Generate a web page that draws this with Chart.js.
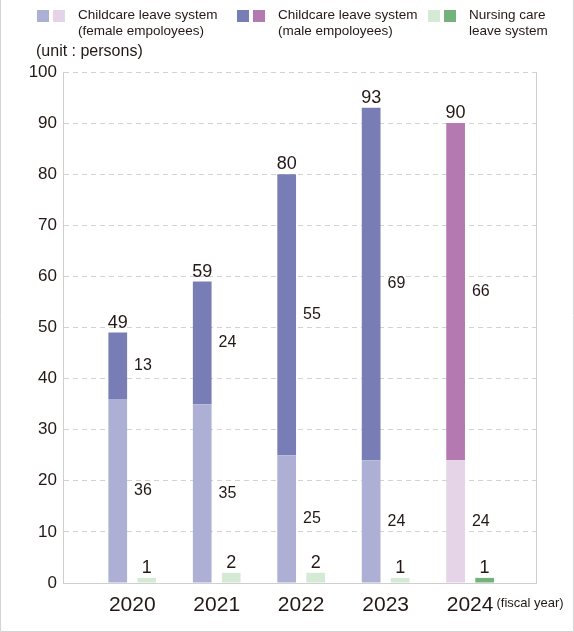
<!DOCTYPE html>
<html>
<head>
<meta charset="utf-8">
<script src="https://cdn.jsdelivr.net/npm/chart.js@4"></script>
<style>
  html, body { margin: 0; padding: 0; background: #fff; }
  #wrap { position: relative; width: 574px; height: 632px; }
  canvas { display: block; }
</style>
</head>
<body>
<div id="wrap"><canvas id="c" width="574" height="632"></canvas></div>
<script>
// ---- data ----
const years = ['2020', '2021', '2022', '2023', '2024'];
const femaleChildcare = [36, 35, 25, 24, 24];
const maleChildcare = [13, 24, 55, 69, 66];
const nursingCare = [1, 2, 2, 1, 1];
const yTicks = [0, 10, 20, 30, 40, 50, 60, 70, 80, 90, 100];

// ---- styles ----
const FONT = "'Liberation Sans', Arial, sans-serif";
const TEXT = '#231815';
const femaleColors = ['#adb0d4', '#adb0d4', '#adb0d4', '#adb0d4', '#e5d4e7'];
const maleColors = ['#787db5', '#787db5', '#787db5', '#787db5', '#b579b1'];
const nursingColors = ['#d5ead5', '#d5ead5', '#d5ead5', '#d5ead5', '#72b27b'];
const legendItems = [
  { colors: ['#adb0d4', '#e5d4e7'], lines: ['Childcare leave system', '(female empoloyees)'], x: 37 },
  { colors: ['#787db5', '#b579b1'], lines: ['Childcare leave system', '(male empoloyees)'], x: 237 },
  { colors: ['#d5ead5', '#72b27b'], lines: ['Nursing care', 'leave system'], x: 428 }
];

const toXY = arr => arr.map((v, i) => ({ x: i, y: v }));

const decorPlugin = {
  id: 'decor',
  beforeDatasetsDraw(chart) {
    const { ctx, chartArea } = chart;
    ctx.save();
    ctx.strokeStyle = '#cfcfcf';
    ctx.lineWidth = 1;
    ctx.beginPath();
    ctx.moveTo(Math.round(chartArea.right) + 0.5, chartArea.top);
    ctx.lineTo(Math.round(chartArea.right) + 0.5, chartArea.bottom);
    ctx.stroke();
    ctx.strokeStyle = '#d4d4d4';
    ctx.beginPath();
    ctx.moveTo(0.5, 0);
    ctx.lineTo(0.5, chart.height - 0.5);
    ctx.lineTo(chart.width - 0.5, chart.height - 0.5);
    ctx.lineTo(chart.width - 0.5, 0);
    ctx.stroke();
    ctx.restore();
  },
  afterDatasetsDraw(chart) {
    const { ctx } = chart;
    const fMeta = chart.getDatasetMeta(0);
    const mMeta = chart.getDatasetMeta(1);
    const nMeta = chart.getDatasetMeta(2);
    ctx.save();
    ctx.fillStyle = TEXT;
    years.forEach((y, i) => {
      const fb = fMeta.data[i], mb = mMeta.data[i], nb = nMeta.data[i];
      ctx.font = '18px ' + FONT;
      ctx.textAlign = 'center';
      ctx.textBaseline = 'alphabetic';
      ctx.fillText(String(femaleChildcare[i] + maleChildcare[i]), mb.x, mb.y - 5);
      ctx.fillText(String(nursingCare[i]), nb.x, nb.y - 5);
      ctx.font = '16px ' + FONT;
      ctx.textAlign = 'left';
      ctx.textBaseline = 'middle';
      ctx.fillText(String(maleChildcare[i]), mb.x + mb.width / 2 + 7, (mb.y + mb.base) / 2);
      ctx.fillText(String(femaleChildcare[i]), fb.x + fb.width / 2 + 7, (fb.y + fb.base) / 2);
    });
    ctx.restore();
  },
  afterDraw(chart) {
    const { ctx } = chart;
    ctx.save();
    legendItems.forEach(item => {
      item.colors.forEach((c, k) => {
        ctx.fillStyle = c;
        ctx.fillRect(item.x + k * 16, 10, 12, 12);
      });
      ctx.fillStyle = TEXT;
      ctx.font = '13.5px ' + FONT;
      ctx.textAlign = 'left';
      ctx.textBaseline = 'middle';
      item.lines.forEach((t, k) => ctx.fillText(t, item.x + 41, 15 + k * 16.5));
    });
    ctx.fillStyle = TEXT;
    ctx.font = '16px ' + FONT;
    ctx.textBaseline = 'middle';
    ctx.fillText('(unit : persons)', 36, 52);
    const xs = chart.scales.x;
    ctx.font = '21px ' + FONT;
    const w = ctx.measureText(years[years.length - 1]).width;
    const lx = xs.getPixelForValue(years.length - 1) + w / 2 + 3;
    ctx.font = '13px ' + FONT;
    ctx.fillText('(fiscal year)', lx, 603);
    ctx.restore();
  }
};

new Chart(document.getElementById('c'), {
  type: 'bar',
  data: {
    datasets: [
      { label: 'Childcare leave system (female empoloyees)', data: toXY(femaleChildcare), backgroundColor: femaleColors, stack: 'childcare' },
      { label: 'Childcare leave system (male empoloyees)', data: toXY(maleChildcare), backgroundColor: maleColors, stack: 'childcare' },
      { label: 'Nursing care leave system', data: toXY(nursingCare), backgroundColor: nursingColors, stack: 'nursing' }
    ]
  },
  options: {
    responsive: false,
    animation: false,
    devicePixelRatio: 1,
    categoryPercentage: 0.687,
    barPercentage: 0.645,
    layout: { padding: { top: 72, left: 0, right: 38, bottom: 0 } },
    plugins: { legend: { display: false }, tooltip: { enabled: false } },
    scales: {
      x: {
        type: 'linear',
        offset: false,
        min: -0.82,
        max: 4.78,
        afterFit(s) { s.height = 49; },
        afterBuildTicks(s) { s.ticks = years.map((_, i) => ({ value: i })); },
        grid: { display: false, drawTicks: false, offset: false },
        border: { display: true, color: '#cfcfcf' },
        ticks: {
          autoSkip: false,
          maxRotation: 0,
          padding: 10,
          color: TEXT,
          font: { family: FONT, size: 21 },
          callback: v => years[v] ?? ''
        }
      },
      y: {
        stacked: true,
        min: 0,
        max: 100,
        afterFit(s) { s.width = 63; },
        afterBuildTicks(s) { s.ticks = yTicks.map(v => ({ value: v })); },
        grid: { color: '#d3d3d3', drawTicks: false },
        border: { display: true, color: '#cfcfcf', dash: [5, 4] },
        ticks: {
          padding: 6,
          color: TEXT,
          font: { family: FONT, size: 17 }
        }
      }
    }
  },
  plugins: [decorPlugin]
});
</script>
</body>
</html>
